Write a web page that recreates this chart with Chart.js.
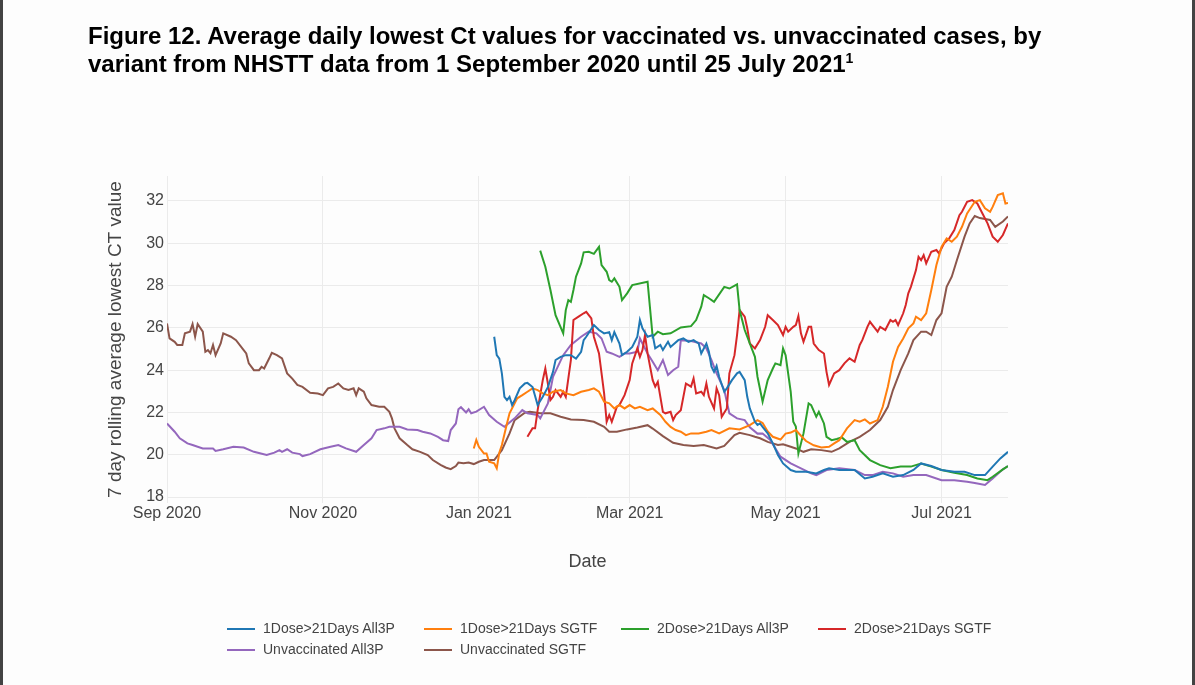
<!DOCTYPE html>
<html>
<head>
<meta charset="utf-8">
<script src="https://cdn.jsdelivr.net/npm/chart.js@4.4.1/dist/chart.umd.min.js"></script>
<style>
  body { margin: 0; background: #fff; }
  #page { position: relative; width: 1195px; height: 685px; overflow: hidden; background: #fdfdfd; font-family: "Liberation Sans", Arial, sans-serif; }
  .edge { position: absolute; top: 0; width: 3px; height: 685px; background: #434343; }
  #title { position: absolute; left: 88px; top: 22px; font-weight: bold; font-size: 24px; line-height: 28px; color: #000; white-space: nowrap; }
  #title sup { font-size: 14px; line-height: 0; vertical-align: 9px; }
  #c { position: absolute; left: 0; top: 0; }
  #legend { position: absolute; left: 227px; top: 619px; display: grid; grid-template-columns: repeat(4, 197px); row-gap: 2px; }
  .item { font-size: 14px; color: #444; height: 19px; line-height: 19px; white-space: nowrap; }
  .item i { display: inline-block; width: 28px; height: 2px; margin-right: 8px; vertical-align: middle; }
</style>
</head>
<body>
<div id="page">
  <canvas id="c" width="1195" height="685"></canvas>
  <div id="title">Figure 12. Average daily lowest Ct values for vaccinated vs. unvaccinated cases, by<br>variant from NHSTT data from 1 September 2020 until 25 July 2021<sup>1</sup></div>
  <div id="legend"></div>
  <div class="edge" style="left:0"></div>
  <div class="edge" style="left:1192px"></div>
</div>
<script>
// x values are days since 1 Sep 2020
const tickDays = [0, 61, 122, 181, 242, 303];
const tickLabels = ["Sep 2020", "Nov 2020", "Jan 2021", "Mar 2021", "May 2021", "Jul 2021"];
const yTicks = [18, 20, 22, 24, 26, 28, 30, 32];

const seriesNames = ["1Dose>21Days All3P", "1Dose>21Days SGTF", "2Dose>21Days All3P", "2Dose>21Days SGTF", "Unvaccinated All3P", "Unvaccinated SGTF"];
const seriesColors = ["#1f77b4", "#ff7f0e", "#2ca02c", "#d62728", "#9467bd", "#8c564b"];

// 1Dose>21Days All3P
const dose1All3pDays = [128,129,130,131,132,133,134,135,136,138,140,141,143,145,147,149,151,152,154,156,158,160,162,163,164,167,169,171,173,174,175,177,178,180,182,184,185,186,188,190,191,193,194,196,197,200,202,204,206,208,209,211,212,213,214,215,216,218,219,221,223,224,226,227,228,230,231,232,233,235,237,239,241,244,246,250,254,257,259,263,269,273,276,280,284,288,292,295,299,303,308,312,316,320,323,326,329];
const dose1All3pCt = [25.58,24.71,24.55,23.85,22.74,22.58,22.74,22.35,22.58,23.14,23.37,23.4,23.2,22.35,22.74,23.2,23.92,24.48,24.63,24.71,24.71,24.55,24.87,25.42,25.58,26.13,25.9,25.74,25.8,25.42,25.8,25.26,24.71,24.87,25.1,25.58,26.37,25.98,25.58,25.66,25.03,25.19,24.95,25.34,25.1,25.42,25.5,25.34,25.42,25.26,24.79,25.26,24.87,24.16,23.92,24.2,23.69,22.98,23.14,23.53,23.85,23.92,23.53,22.74,22.19,21.56,21.41,21.48,21.32,21.01,20.54,19.99,19.59,19.28,19.2,19.2,19.12,19.28,19.36,19.28,19.28,18.88,18.96,19.12,18.96,19.04,19.28,19.59,19.47,19.28,19.2,19.2,19.04,19.04,19.44,19.83,20.14];

// 1Dose>21Days SGTF
const dose1SgtfDays = [120,121,122,124,125,126,128,129,130,131,133,134,136,137,139,141,143,145,147,149,151,154,156,159,162,165,167,169,171,173,175,177,179,181,183,185,188,190,193,195,197,199,201,203,205,208,211,213,216,220,224,228,231,233,235,237,240,242,244,246,248,250,253,256,259,261,263,266,269,271,273,275,278,280,282,284,286,288,290,292,293,295,297,299,301,303,305,307,309,311,313,316,318,320,322,323,325,327,328,329];
const dose1SgtfCt = [20.3,20.7,20.38,20.06,20.06,19.67,19.6,19.36,20.1,20.46,21.48,21.96,22.43,22.67,22.82,22.98,23.14,23.06,22.9,22.82,22.98,23.06,22.9,22.82,22.98,23.06,23.14,22.98,22.51,22.43,22.19,22.35,22.19,22.35,22.19,22.27,22.11,22.19,21.88,21.56,21.32,21.17,21.09,20.93,21.01,21.01,21.09,21.17,21.01,21.25,21.2,21.4,21.64,21.5,21.1,20.85,20.72,21.0,21.05,21.17,20.9,20.65,20.45,20.35,20.38,20.54,20.69,21.25,21.64,21.56,21.67,21.48,21.64,22.27,23.22,24.4,25.1,25.5,25.98,26.21,26.53,26.37,26.69,27.79,28.97,29.83,30.23,30.07,30.31,30.78,31.41,31.96,32.04,31.65,31.49,31.72,32.28,32.36,31.88,31.9];

// 2Dose>21Days All3P
const dose2All3pDays = [146,148,150,152,155,156,157,158,159,160,162,163,165,167,169,170,172,173,174,175,177,178,180,182,188,190,192,194,197,201,205,207,209,210,212,214,218,220,223,224,226,228,230,231,233,235,237,238,240,241,242,244,245,246,247,249,251,252,254,255,257,258,260,262,264,266,269,271,275,279,283,287,291,295,299,303,308,313,317,321,323,327,329];
const dose2All3pCt = [29.65,28.89,27.79,26.6,25.74,26.84,27.31,27.23,27.79,28.42,29.05,29.57,29.6,29.5,29.83,28.97,28.65,28.26,28.18,28.34,27.94,27.31,27.63,28.02,28.18,25.58,25.82,25.7,25.74,26.02,26.08,26.37,27.0,27.55,27.4,27.23,27.94,27.86,28.06,26.84,25.9,25.26,24.63,23.69,22.51,23.53,24.08,24.32,24.24,25.03,24.71,22.98,21.56,21.33,20.06,21.01,22.43,22.35,21.8,22.03,21.48,20.85,20.69,20.75,20.82,20.61,20.69,20.22,19.75,19.51,19.36,19.44,19.44,19.59,19.44,19.28,19.15,19.04,18.88,18.8,18.96,19.31,19.47];

// 2Dose>21Days SGTF
const dose2SgtfDays = [141,143,144,145,147,148,149,150,151,152,154,155,156,158,159,161,163,164,166,167,169,170,171,172,173,174,176,177,179,181,182,184,185,186,187,188,190,191,192,193,194,195,197,198,199,201,202,203,205,206,207,209,210,211,212,214,215,216,217,219,220,222,223,224,226,227,228,230,232,234,235,237,239,241,242,243,245,246,247,248,249,251,252,253,255,257,258,259,261,263,265,267,269,271,272,274,275,276,278,279,281,283,284,285,286,288,289,290,291,293,294,295,296,297,299,301,302,304,306,308,310,311,313,315,317,319,321,323,325,327,329];
const dose2SgtfCt = [20.85,21.25,21.25,22.11,23.53,24.08,23.37,22.59,22.74,23.06,22.74,22.98,22.74,24.48,26.37,26.53,26.69,26.76,26.45,25.58,24.79,23.85,22.9,21.56,21.88,21.56,22.27,22.35,22.82,23.53,24.32,25.03,24.63,24.95,25.66,24.79,23.53,23.22,23.45,22.74,22.03,21.96,22.03,21.64,21.88,22.11,22.74,23.37,23.22,23.61,22.9,22.98,22.82,23.37,22.74,22.19,23.14,22.82,21.8,22.19,23.85,24.71,25.66,26.84,26.53,25.98,25.26,25.03,25.42,26.05,26.6,26.37,26.13,25.66,26.05,25.82,26.05,26.13,26.56,25.74,25.34,26.05,26.05,25.26,24.95,24.79,23.92,23.3,23.85,24.0,24.32,24.56,24.4,25.19,25.42,26.05,26.29,26.13,25.82,26.05,25.9,26.37,26.29,26.37,26.13,26.69,27.08,27.63,27.94,28.73,29.36,29.2,29.44,29.05,29.6,29.68,29.52,30.0,30.23,30.62,31.33,31.49,31.96,32.04,31.88,31.41,30.94,30.31,30.07,30.39,30.94];

// Unvaccinated All3P
const unvacAll3pDays = [0,3,5,8,10,12,14,18,19,22,26,30,34,39,42,44,45,47,49,52,53,56,60,64,67,70,74,77,80,82,85,87,91,94,98,100,103,106,108,110,111,113,114,115,117,118,119,121,124,126,129,132,136,139,141,145,146,149,151,155,158,162,165,168,170,172,174,177,179,181,184,185,186,188,190,192,194,196,198,200,201,205,209,211,213,215,218,220,223,226,228,231,233,236,240,244,248,252,254,258,263,269,273,276,280,284,288,292,297,303,308,313,316,320,323,327,329];
const unvacAll3pCt = [21.48,21.09,20.78,20.54,20.46,20.38,20.3,20.3,20.18,20.26,20.38,20.34,20.14,19.99,20.1,20.22,20.14,20.26,20.1,20.03,19.94,20.03,20.26,20.38,20.46,20.3,20.14,20.46,20.78,21.17,21.25,21.32,21.32,21.2,21.17,21.09,21.01,20.85,20.69,20.65,21.17,21.48,22.15,22.25,22.0,22.15,21.96,22.04,22.27,21.88,21.56,21.32,21.72,22.11,21.96,21.88,21.72,22.43,23.69,24.71,25.19,25.58,25.82,25.74,25.5,24.87,24.79,24.63,24.79,24.79,24.87,25.5,25.26,24.79,24.4,24.0,24.48,23.77,24.0,24.16,25.42,25.38,25.26,25.03,24.48,23.85,23.06,21.96,21.72,21.64,21.3,21.0,21.01,20.7,19.91,19.59,19.36,19.12,19.04,19.28,19.36,19.28,19.04,19.04,19.2,19.12,18.96,19.04,19.04,18.8,18.8,18.72,18.67,18.57,18.88,19.31,19.47];

// Unvaccinated SGTF
const unvacSgtfDays = [0,1,3,4,6,7,9,10,11,12,14,15,16,17,18,19,21,22,25,27,30,31,32,34,36,37,38,40,41,43,45,47,49,51,53,56,59,61,63,65,67,69,71,73,74,75,77,78,80,83,85,87,88,89,91,94,96,99,102,104,107,109,111,113,114,116,118,120,122,124,128,131,134,136,140,142,146,150,154,158,163,167,171,173,176,180,184,188,190,194,198,202,206,210,215,218,222,224,228,230,232,235,239,241,244,246,249,252,256,260,263,267,271,275,279,282,284,287,290,292,295,297,299,301,303,305,307,309,312,314,316,318,322,324,327,329];
const unvacSgtfCt = [26.21,25.5,25.34,25.19,25.19,25.74,25.82,26.18,25.58,26.18,25.82,24.87,24.95,24.8,25.19,24.71,25.26,25.74,25.58,25.42,24.95,24.79,24.32,24.0,24.0,24.16,24.08,24.56,24.82,24.71,24.56,23.85,23.6,23.3,23.21,22.93,22.9,22.82,23.14,23.21,23.37,23.14,23.06,23.14,22.82,23.14,22.98,22.67,22.35,22.27,22.27,22.03,21.72,21.25,20.78,20.46,20.26,20.14,19.99,19.75,19.52,19.4,19.32,19.47,19.63,19.6,19.63,19.56,19.67,19.75,19.75,20.22,21.01,21.64,21.99,22.03,21.96,21.96,21.8,21.67,21.64,21.56,21.32,21.09,21.09,21.2,21.29,21.4,21.24,20.88,20.57,20.46,20.42,20.46,20.3,20.42,20.93,21.04,20.93,20.85,20.78,20.61,20.46,20.5,20.38,20.3,20.14,20.26,20.22,20.14,20.3,20.61,20.85,21.17,21.64,22.27,23.06,24.0,24.79,25.42,25.82,25.82,25.66,26.37,26.69,27.94,28.42,29.2,30.31,30.94,31.29,31.19,31.1,30.78,31.03,31.27];

const seriesDays = [dose1All3pDays, dose1SgtfDays, dose2All3pDays, dose2SgtfDays, unvacAll3pDays, unvacSgtfDays];
const seriesCt = [dose1All3pCt, dose1SgtfCt, dose2All3pCt, dose2SgtfCt, unvacAll3pCt, unvacSgtfCt];

const datasets = seriesNames.map((name, k) => ({
  label: name,
  data: seriesDays[k].map((d, i) => ({ x: d, y: seriesCt[k][i] })),
  borderColor: seriesColors[k],
  borderWidth: 2,
  pointRadius: 0,
  tension: 0,
  fill: false
}));

const gridColor = "#ebebeb";

new Chart(document.getElementById("c"), {
  type: "line",
  data: { datasets: datasets },
  options: {
    responsive: false,
    animation: false,
    layout: { padding: { left: 100, right: 187, top: 176, bottom: 107 } },
    plugins: { legend: { display: false }, tooltip: { enabled: false } },
    scales: {
      x: {
        type: "linear",
        min: 0,
        max: 329,
        afterBuildTicks: s => { s.ticks = tickDays.map(v => ({ value: v })); },
        afterFit: s => { s.height = 75; },
        ticks: {
          autoSkip: false,
          maxRotation: 0,
          padding: 1,
          color: "#444",
          font: { family: "Liberation Sans", size: 16 },
          callback: v => tickLabels[tickDays.indexOf(v)]
        },
        grid: { color: gridColor, drawTicks: false },
        border: { display: false },
        title: { display: true, text: "Date", color: "#444", font: { family: "Liberation Sans", size: 18 }, padding: { top: 0, bottom: 5 } }
      },
      y: {
        min: 17.72,
        max: 33.18,
        afterBuildTicks: s => { s.ticks = yTicks.map(v => ({ value: v })); },
        afterFit: s => { s.width = 67; },
        ticks: { padding: 3, color: "#444", font: { family: "Liberation Sans", size: 16 } },
        grid: { color: gridColor, drawTicks: false },
        border: { display: false },
        title: { display: true, text: "7 day rolling average lowest CT value", color: "#444", font: { family: "Liberation Sans", size: 19 }, padding: { top: 4, bottom: 0 } }
      }
    }
  }
});

// legend in plotly-like fixed columns
const legend = document.getElementById("legend");
seriesNames.forEach((name, k) => {
  const item = document.createElement("div");
  item.className = "item";
  const line = document.createElement("i");
  line.style.background = seriesColors[k];
  item.appendChild(line);
  item.appendChild(document.createTextNode(name));
  legend.appendChild(item);
});
</script>
</body>
</html>
